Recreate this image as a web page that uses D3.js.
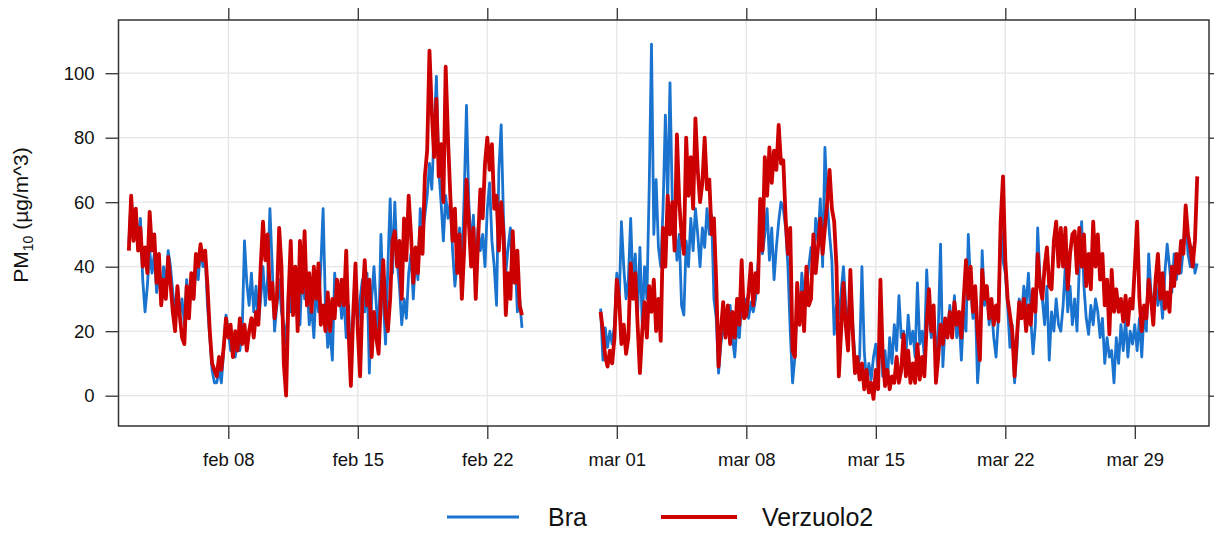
<!DOCTYPE html>
<html>
<head>
<meta charset="utf-8">
<script src="https://cdn.jsdelivr.net/npm/d3@7"></script>
<style>
  body { margin: 0; background: #fff; }
  svg { font-family: "Liberation Sans", Arial, sans-serif; }
</style>
</head>
<body>
<script>
const width = 1214;
const height = 534;
const margin = {top: 20, right: 5, bottom: 108, left: 118.5};

// readings every 3 h, one row per day (00h ... 21h)
const seg1Start = new Date(2017, 1, 2, 15);
const seg2Start = new Date(2017, 1, 28, 3);
const stepHours = 3;

const series = ["Bra", "Verzuolo2"];
const colors = ["#1a74cf", "#cc0000"];

const bra1 = [47, 62, 52,
  57, 48, 55, 36, 26, 34, 45, 38,
  44, 32, 38, 30, 40, 34, 45, 40,
  32, 26, 34, 25, 30, 22, 36, 28,
  36, 30, 40, 36, 46, 40, 44, 28,
  18, 8, 4, 4, 8, 4, 14, 25,
  20, 14, 18, 12, 18, 14, 20, 48,
  35, 28, 38, 26, 34, 22, 30, 40,
  28, 36, 58, 40, 20, 28, 36, 26,
  22, 16, 32, 26, 38, 30, 36, 22,
  40, 30, 36, 22, 28, 18, 34, 26,
  40, 58, 28, 15, 20, 11, 38, 30,
  34, 24, 30, 18, 28, 8, 24, 30,
  22, 30, 36, 26, 38, 7, 30, 40,
  28, 18, 50, 30, 16, 40, 61, 38,
  60, 42, 34, 22, 30, 24, 38, 44,
  30, 44, 36, 58, 50, 56, 62, 72,
  64, 82, 99, 70, 60, 48, 62, 55,
  60, 45, 34, 42, 52, 40, 62, 90,
  60, 46, 56, 38, 52, 45, 50, 40,
  58, 66, 48, 40, 28, 70, 84, 55,
  38, 46, 52, 35, 44, 26, 30, 21];
const verz1 = [45, 62, 48,
  58, 45, 52, 40, 46, 38, 57, 45,
  50, 35, 44, 28, 36, 30, 43, 35,
  26, 20, 34, 25, 18, 16, 34, 24,
  38, 30, 44, 40, 47, 42, 45, 34,
  20, 10, 8, 6, 12, 8, 15, 24,
  18, 22, 12, 20, 14, 24, 16, 22,
  14, 20, 24, 18, 26, 22, 40, 54,
  42, 50, 30, 35, 24, 30, 52, 40,
  10, 0, 30, 48, 25, 40, 20, 48,
  32, 51, 28, 38, 26, 40, 30, 41,
  22, 28, 20, 32, 20, 30, 24, 36,
  28, 36, 28, 45, 20, 3, 25, 41,
  20, 6, 30, 42, 28, 36, 12, 26,
  18, 13, 30, 42, 25, 20, 30, 48,
  51, 40, 48, 30, 55, 42, 62, 50,
  35, 46, 38, 52, 44, 68, 76, 107,
  88, 74, 92, 68, 78, 60, 102, 80,
  62, 48, 58, 38, 50, 30, 45, 67,
  54, 40, 52, 30, 48, 64, 55, 72,
  80, 70, 78, 58, 62, 45, 60, 50,
  25, 38, 30, 51, 35, 45, 28, 25];
const bra2 = [27, 11, 21, 15, 20, 16, 22,
  38, 28, 54, 40, 30, 36, 55, 34,
  44, 25, 46, 22, 40, 30, 64, 109,
  50, 67, 46, 40, 58, 87, 60, 97,
  60, 55, 42, 50, 28, 25, 48, 40,
  55, 45, 58, 50, 40, 52, 46, 58,
  50, 56, 30, 24, 7, 16, 22, 18,
  26, 28, 18, 12, 22, 18, 30, 26,
  30, 24, 29, 26, 30, 40, 50, 44,
  50, 58, 42, 52, 36, 46, 54, 60,
  58, 52, 40, 20, 4, 12, 30, 22,
  38, 30, 34, 40, 46, 38, 55, 48,
  61, 40, 77, 60, 50, 42, 19, 28,
  24, 32, 40, 28, 20, 36, 22, 12,
  8, 12, 40, 14, 4, 10, 5, 12,
  16, 8, 20, 6, 14, 4, 18, 10,
  22, 14, 31, 18, 20, 12, 25, 16,
  20, 12, 35, 16, 20, 12, 39, 24,
  18, 26, 12, 20, 47, 9, 22, 18,
  28, 20, 31, 18, 24, 11, 26, 20,
  50, 34, 24, 30, 4, 14, 45, 28,
  34, 22, 28, 18, 12, 24, 54, 42,
  38, 28, 15, 22, 4, 14, 30, 24,
  34, 28, 38, 24, 13, 22, 52, 36,
  30, 22, 34, 11, 26, 20, 30, 22,
  20, 28, 41, 26, 34, 22, 30, 20,
  40, 54, 34, 24, 19, 28, 22, 30,
  26, 18, 24, 10, 18, 12, 14, 4,
  18, 10, 22, 14, 24, 12, 20, 16,
  22, 14, 24, 12, 26, 20, 44, 32,
  26, 36, 28, 33, 24, 38, 47, 40,
  32, 44, 36, 42, 38, 46, 56, 44,
  40, 46, 38, 41];
const verz2 = [26, 20, 12, 9, 14, 10, 18,
  36, 30, 16, 22, 13, 18, 41, 30,
  38, 22, 7, 20, 29, 18, 34, 26,
  36, 20, 30, 17, 52, 40, 62, 50,
  60, 45, 81, 60, 50, 44, 80, 62,
  74, 58, 86, 70, 60, 66, 80, 64,
  67, 50, 55, 35, 9, 20, 29, 18,
  28, 16, 26, 18, 30, 22, 42, 24,
  25, 32, 41, 28, 38, 32, 61, 45,
  74, 62, 77, 66, 76, 70, 84, 72,
  73, 55, 44, 52, 14, 12, 35, 22,
  32, 20, 40, 28, 30, 50, 38, 46,
  55, 44, 52, 60, 70, 58, 54, 40,
  6, 20, 35, 22, 14, 39, 20, 7,
  12, 5, 10, 2, 8, 1, 4, -1,
  8, 2, 36, 12, 3, 8, 2, 6,
  4, 12, 4, 8, 19, 6, 14, 4,
  10, 4, 16, 5, 12, 6, 22, 33,
  20, 28, 4, 12, 22, 16, 24, 18,
  26, 18, 29, 22, 26, 18, 30, 42,
  30, 40, 26, 34, 20, 11, 39, 30,
  34, 24, 30, 22, 28, 23, 54, 68,
  42, 30, 25, 20, 6, 18, 29, 24,
  30, 20, 28, 22, 33, 26, 44, 34,
  30, 40, 46, 34, 33, 48, 54, 40,
  52, 40, 52, 33, 44, 50, 51, 38,
  52, 40, 50, 34, 44, 33, 54, 40,
  50, 36, 44, 28, 36, 19, 39, 26,
  33, 26, 30, 23, 31, 22, 30, 27,
  40, 54, 30, 20, 28, 24, 36, 30,
  22, 36, 44, 30, 38, 27, 32, 26,
  40, 34, 44, 38, 48, 44, 59, 50,
  46, 40, 48, 68];

const yTicks = [0, 20, 40, 60, 80, 100];
const xTicks = [new Date(2017, 1, 8), new Date(2017, 1, 15), new Date(2017, 1, 22),
  new Date(2017, 2, 1), new Date(2017, 2, 8), new Date(2017, 2, 15),
  new Date(2017, 2, 22), new Date(2017, 2, 29)];

const itLocale = d3.timeFormatLocale({
  dateTime: "%A %e %B %Y, %X", date: "%d/%m/%Y", time: "%H:%M:%S",
  periods: ["AM", "PM"],
  days: ["domenica", "lunedì", "martedì", "mercoledì", "giovedì", "venerdì", "sabato"],
  shortDays: ["dom", "lun", "mar", "mer", "gio", "ven", "sab"],
  months: ["gennaio", "febbraio", "marzo", "aprile", "maggio", "giugno", "luglio", "agosto", "settembre", "ottobre", "novembre", "dicembre"],
  shortMonths: ["gen", "feb", "mar", "apr", "mag", "giu", "lug", "ago", "set", "ott", "nov", "dic"]
});
const fmt = itLocale.format("%b %d");

function toPoints(start, values) {
  return values.map((v, i) => ({date: d3.timeHour.offset(start, i * stepHours), value: v}));
}
const braData = toPoints(seg1Start, bra1).concat([null], toPoints(seg2Start, bra2));
const verzData = toPoints(seg1Start, verz1).concat([null], toPoints(seg2Start, verz2));

const x = d3.scaleTime()
  .domain([new Date(2017, 1, 2, 1, 34), new Date(2017, 3, 2, 0, 15)])
  .range([margin.left, width - margin.right]);
const y = d3.scaleLinear()
  .domain([-9.4, 116.5])
  .range([height - margin.bottom, margin.top]);

const svg = d3.select("body").append("svg")
  .attr("width", width)
  .attr("height", height);

// grid
svg.append("g")
  .selectAll("line")
  .data(yTicks)
  .join("line")
  .attr("x1", margin.left).attr("x2", width - margin.right)
  .attr("y1", d => y(d)).attr("y2", d => y(d))
  .attr("stroke", "#e6e6e6").attr("stroke-width", 1.3);
svg.append("g")
  .selectAll("line")
  .data(xTicks)
  .join("line")
  .attr("x1", d => x(d)).attr("x2", d => x(d))
  .attr("y1", margin.top).attr("y2", height - margin.bottom)
  .attr("stroke", "#e6e6e6").attr("stroke-width", 1.3);

// lines
const line = d3.line()
  .defined(d => d !== null)
  .x(d => x(d.date))
  .y(d => y(d.value));

svg.append("path")
  .datum(braData)
  .attr("fill", "none")
  .attr("stroke", colors[0])
  .attr("stroke-width", 2.8)
  .attr("stroke-linejoin", "round")
  .attr("d", line);
svg.append("path")
  .datum(verzData)
  .attr("fill", "none")
  .attr("stroke", colors[1])
  .attr("stroke-width", 3.8)
  .attr("stroke-linejoin", "round")
  .attr("d", line);

// axes
const xAxisBottom = d3.axisBottom(x).tickValues(xTicks).tickFormat(fmt).tickSize(13).tickPadding(14);
const xAxisTop = d3.axisTop(x).tickValues(xTicks).tickFormat("").tickSize(12);
const yAxisLeft = d3.axisLeft(y).tickValues(yTicks).tickSize(13).tickPadding(11);
const yAxisRight = d3.axisRight(y).tickValues(yTicks).tickFormat("").tickSize(6);

svg.append("g")
  .attr("transform", "translate(0," + (height - margin.bottom) + ")")
  .call(xAxisBottom);
svg.append("g")
  .attr("transform", "translate(0," + margin.top + ")")
  .call(xAxisTop);
svg.append("g")
  .attr("transform", "translate(" + margin.left + ",0)")
  .call(yAxisLeft);
svg.append("g")
  .attr("transform", "translate(" + (width - margin.right) + ",0)")
  .call(yAxisRight);

svg.selectAll(".tick line").attr("stroke", "#333").attr("stroke-width", 1.3);
svg.selectAll(".domain").remove();
svg.selectAll(".tick text")
  .attr("font-family", "'Liberation Sans', Arial, sans-serif")
  .attr("font-size", 18.5)
  .attr("fill", "#111");

// panel border
svg.append("rect")
  .attr("x", margin.left).attr("y", margin.top)
  .attr("width", width - margin.right - margin.left)
  .attr("height", height - margin.bottom - margin.top)
  .attr("fill", "none")
  .attr("stroke", "#333")
  .attr("stroke-width", 1.5);

// y label
const ylab = svg.append("text")
  .attr("transform", "translate(28," + 215 + ") rotate(-90)")
  .attr("text-anchor", "middle")
  .attr("font-size", 21)
  .attr("fill", "#111");
ylab.append("tspan").text("PM");
ylab.append("tspan").attr("font-size", 14).attr("dy", 5).text("10");
ylab.append("tspan").attr("dy", -5).text(" (µg/m^3)");

// legend
const legendX = [447, 661];
const legend = svg.append("g")
  .selectAll("g")
  .data(series)
  .join("g")
  .attr("transform", (d, i) => "translate(" + legendX[i] + ",517)");
legend.append("line")
  .attr("x1", 0).attr("x2", (d, i) => i === 0 ? 72 : 76)
  .attr("stroke", (d, i) => colors[i])
  .attr("stroke-width", (d, i) => i === 0 ? 3 : 4);
legend.append("text")
  .attr("x", 101)
  .attr("dy", "0.36em")
  .attr("font-size", 25)
  .attr("fill", "#111")
  .text(d => d);
</script>
</body>
</html>
